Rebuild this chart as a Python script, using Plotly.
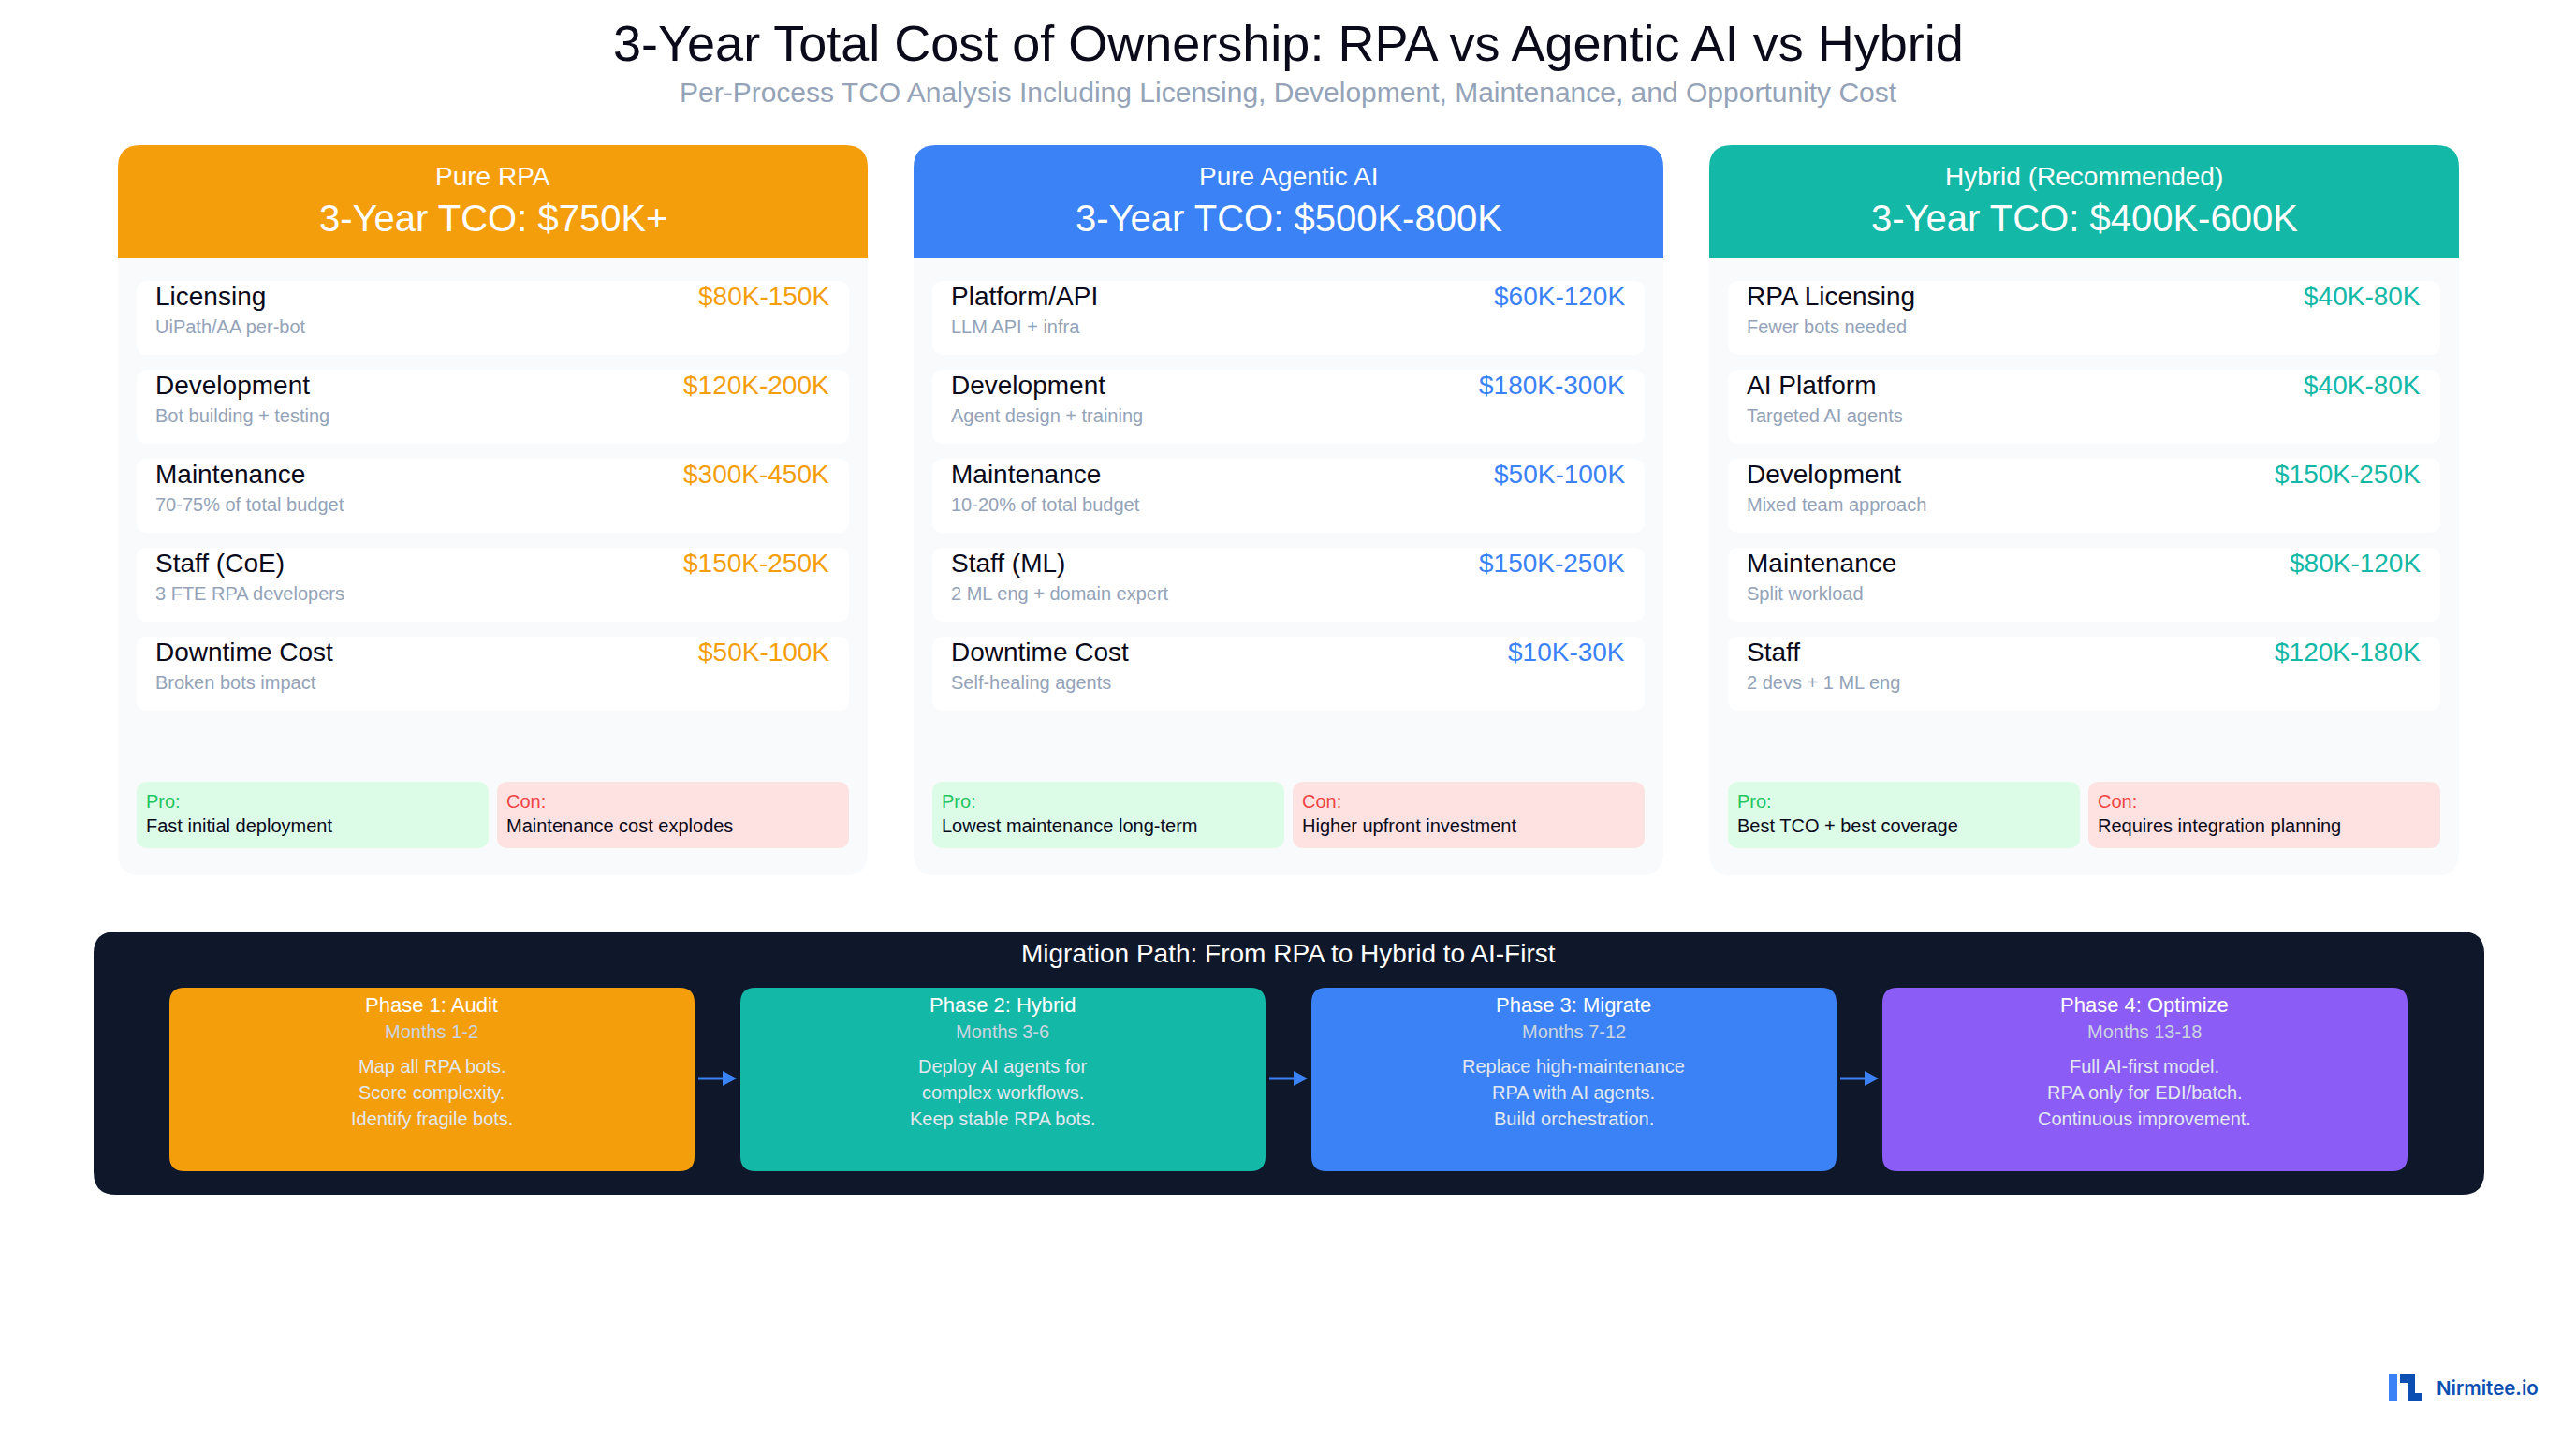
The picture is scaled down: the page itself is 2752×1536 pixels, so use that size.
import plotly.graph_objects as go

FONT = "Liberation Sans"
INK = "#0A0A1A"

# card contents
plan_names = ["Pure RPA", "Pure Agentic AI", "Hybrid (Recommended)"]
plan_tco = ["3-Year TCO: $750K+", "3-Year TCO: $500K-800K", "3-Year TCO: $400K-600K"]
plan_colors = ["#F59E0B", "#3B82F6", "#14B8A6"]

rpa_items = ["Licensing", "Development", "Maintenance", "Staff (CoE)", "Downtime Cost"]
rpa_notes = ["UiPath/AA per-bot", "Bot building + testing", "70-75% of total budget",
             "3 FTE RPA developers", "Broken bots impact"]
rpa_costs = ["$80K-150K", "$120K-200K", "$300K-450K", "$150K-250K", "$50K-100K"]

agentic_items = ["Platform/API", "Development", "Maintenance", "Staff (ML)", "Downtime Cost"]
agentic_notes = ["LLM API + infra", "Agent design + training", "10-20% of total budget",
                 "2 ML eng + domain expert", "Self-healing agents"]
agentic_costs = ["$60K-120K", "$180K-300K", "$50K-100K", "$150K-250K", "$10K-30K"]

hybrid_items = ["RPA Licensing", "AI Platform", "Development", "Maintenance", "Staff"]
hybrid_notes = ["Fewer bots needed", "Targeted AI agents", "Mixed team approach",
                "Split workload", "2 devs + 1 ML eng"]
hybrid_costs = ["$40K-80K", "$40K-80K", "$150K-250K", "$80K-120K", "$120K-180K"]

pros = ["Fast initial deployment", "Lowest maintenance long-term", "Best TCO + best coverage"]
cons = ["Maintenance cost explodes", "Higher upfront investment", "Requires integration planning"]

# migration path
phase_names = ["Phase 1: Audit", "Phase 2: Hybrid", "Phase 3: Migrate", "Phase 4: Optimize"]
phase_months = ["Months 1-2", "Months 3-6", "Months 7-12", "Months 13-18"]
phase_lines = [
    ["Map all RPA bots.", "Score complexity.", "Identify fragile bots."],
    ["Deploy AI agents for", "complex workflows.", "Keep stable RPA bots."],
    ["Replace high-maintenance", "RPA with AI agents.", "Build orchestration."],
    ["Full AI-first model.", "RPA only for EDI/batch.", "Continuous improvement."],
]
phase_colors = ["#F59E0B", "#14B8A6", "#3B82F6", "#8B5CF6"]

shapes = []
annotations = []


def rounded(x0, y0, x1, y1, r, color, top_only=False):
    if top_only:
        path = (f"M{x0},{y1} L{x0},{y0 + r} Q{x0},{y0} {x0 + r},{y0} L{x1 - r},{y0} "
                f"Q{x1},{y0} {x1},{y0 + r} L{x1},{y1} Z")
    else:
        path = (f"M{x0 + r},{y0} L{x1 - r},{y0} Q{x1},{y0} {x1},{y0 + r} L{x1},{y1 - r} "
                f"Q{x1},{y1} {x1 - r},{y1} L{x0 + r},{y1} Q{x0},{y1} {x0},{y1 - r} "
                f"L{x0},{y0 + r} Q{x0},{y0} {x0 + r},{y0} Z")
    shapes.append(dict(type="path", path=path, fillcolor=color, line_width=0, layer="below"))


def label(x, y, text, size, color, anchor="left", weight=None, family=FONT):
    annotations.append(dict(
        x=x, y=y, text=text, showarrow=False, xanchor=anchor, yanchor="middle",
        borderpad=0, font=dict(family=family, size=size, color=color, weight=weight),
    ))


label(1376, 46, "3-Year Total Cost of Ownership: RPA vs Agentic AI vs Hybrid", 54, INK, "center")
label(1376, 98, "Per-Process TCO Analysis Including Licensing, Development, Maintenance, and Opportunity Cost",
      30, "#94A3B8", "center")

cards = zip(plan_names, plan_tco, plan_colors,
            [rpa_items, agentic_items, hybrid_items],
            [rpa_notes, agentic_notes, hybrid_notes],
            [rpa_costs, agentic_costs, hybrid_costs],
            pros, cons)

for i, (name, tco, color, items, notes, costs, pro, con) in enumerate(cards):
    left = 126 + 850 * i
    right = left + 801
    mid = (left + right) / 2
    rounded(left, 155, right, 935, 24, "#F8FAFC")
    rounded(left, 155, right, 276, 24, color, top_only=True)
    label(mid, 188, name, 28, "white", "center")
    label(mid, 233, tco, 40, "white", "center")

    for j in range(len(items)):
        top = 300 + 95 * j
        rounded(left + 20, top, right - 20, top + 79, 12, "white")
        label(left + 39, top + 16, items[j], 28, INK)
        label(left + 39, top + 49, notes[j], 20, "#94A3B8")
        label(right - 40, top + 16, costs[j], 28, color, "right")

    rounded(left + 20, 835, left + 396, 906, 12, "#DCFCE7")
    rounded(left + 405, 835, right - 20, 906, 12, "#FEE2E2")
    label(left + 29, 856, "Pro:", 20, "#22C55E")
    label(left + 29, 882, pro, 20, INK)
    label(left + 414, 856, "Con:", 20, "#EF4444")
    label(left + 414, 882, con, 20, INK)

rounded(100, 995, 2654, 1276, 24, "#0F172A")
label(1376, 1018, "Migration Path: From RPA to Hybrid to AI-First", 28, "white", "center")

for i, (name, months, lines, color) in enumerate(zip(phase_names, phase_months, phase_lines, phase_colors)):
    left = 181 + 610 * i
    mid = left + 280
    rounded(left, 1055, left + 561, 1251, 16, color)
    label(mid, 1073, name, 22, "white", "center")
    label(mid, 1102, months, 20, "#CBD5E1", "center")
    for k, line in enumerate(lines):
        label(mid, 1139 + 28 * k, line, 20, "#E2E8F0", "center")
    if i < 3:
        ax = left + 565
        shapes.append(dict(type="line", x0=ax, x1=ax + 28, y0=1152, y1=1152,
                           line=dict(color="#3B82F6", width=3)))
        shapes.append(dict(type="path", path=f"M{ax + 26},1144 L{ax + 41},1152 L{ax + 26},1160 Z",
                           fillcolor="#3B82F6", line_width=0))

# logo, bottom right
shapes.append(dict(type="rect", x0=2552, x1=2561, y0=1468, y1=1496, fillcolor="#3B82F6", line_width=0))
shapes.append(dict(type="path",
                   path="M2564,1468 L2580,1468 L2580,1488 L2588,1488 L2588,1496 L2572,1496 L2572,1477 L2564,1477 Z",
                   fillcolor="#0B4FB3", line_width=0))
label(2602, 1482, "Nirmitee.io", 20.5, "#0B4FB3", weight=600, family="Inter")

fig = go.Figure()
fig.update_layout(
    width=2752, height=1536,
    margin=dict(l=0, r=0, t=0, b=0),
    paper_bgcolor="white", plot_bgcolor="white",
    xaxis=dict(range=[0, 2752], visible=False, fixedrange=True),
    yaxis=dict(range=[1536, 0], visible=False, fixedrange=True),
    shapes=shapes, annotations=annotations,
    showlegend=False,
)
fig.write_html("out.html", config=dict(displayModeBar=False),
               post_script="document.body.style.margin='0';")
